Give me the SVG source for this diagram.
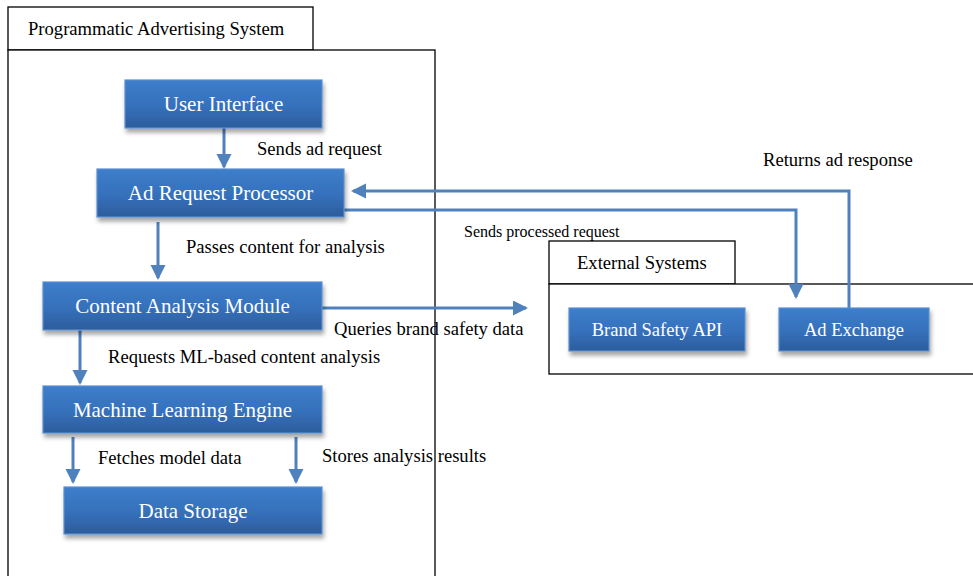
<svg xmlns="http://www.w3.org/2000/svg" width="973" height="576" viewBox="0 0 973 576">
  <defs>
    <linearGradient id="boxFill" x1="0" y1="0" x2="0" y2="1">
      <stop offset="0" stop-color="#3d7ecb"/>
      <stop offset="0.55" stop-color="#3670bb"/>
      <stop offset="1" stop-color="#2c5c9b"/>
    </linearGradient>
    <filter id="shadow" x="-10%" y="-20%" width="125%" height="160%">
      <feDropShadow dx="1.5" dy="4" stdDeviation="2.2" flood-color="#000" flood-opacity="0.35"/>
    </filter>
    <marker id="arrow" markerUnits="userSpaceOnUse" markerWidth="16" markerHeight="16" refX="13" refY="7.5" orient="auto">
      <path d="M0,0 L15,7.5 L0,15 z" fill="#4f81bd"/>
    </marker>
  </defs>
  <style>
    .frame { fill: #fff; stroke: #000; stroke-width: 1.3; }
    .box { fill: url(#boxFill); stroke: #5b8fd0; stroke-width: 1.2; filter: url(#shadow); }
    .boxText { font-family: "Liberation Serif", "Times New Roman", serif; font-size: 21px; fill: #fff; text-anchor: middle; }
    .extText { font-size: 18.5px; }
    .label { font-family: "Liberation Serif", "Times New Roman", serif; font-size: 18.6px; fill: #000; }
    .small { font-size: 16px; }
    .conn { fill: none; stroke: #4f81bd; stroke-width: 3; marker-end: url(#arrow); }
  </style>

  <rect width="973" height="576" fill="#fff"/>

  <!-- system boundaries -->
  <g id="system-frame">
    <rect class="frame" x="8" y="7" width="305" height="43"/>
    <rect class="frame" x="8" y="50" width="427" height="540"/>
    <text class="label" x="28" y="35">Programmatic Advertising System</text>
  </g>
  <g id="external-frame">
    <rect class="frame" x="549" y="241" width="186" height="43"/>
    <rect class="frame" x="549" y="284" width="440" height="90"/>
    <text class="label" x="577" y="269">External Systems</text>
  </g>

  <!-- connectors -->
  <g id="connectors">
    <path class="conn" d="M224,128 V167"/>
    <path class="conn" d="M158,222 V278"/>
    <path class="conn" d="M322,308 H526"/>
    <path class="conn" d="M80,330 V383"/>
    <path class="conn" d="M73,437 V482"/>
    <path class="conn" d="M296,437 V482"/>
    <path class="conn" d="M344,210 H796 V297"/>
    <path class="conn" d="M849,308 V191 H353"/>
    <text class="label" x="257" y="155">Sends ad request</text>
    <text class="label" x="186" y="253">Passes content for analysis</text>
    <text class="label" x="334" y="335">Queries brand safety data</text>
    <text class="label" x="108" y="363">Requests ML-based content analysis</text>
    <text class="label" x="98" y="464">Fetches model data</text>
    <text class="label" x="322" y="462">Stores analysis results</text>
    <text class="label small" x="464" y="237">Sends processed request</text>
    <text class="label" x="763" y="166">Returns ad response</text>
  </g>

  <!-- nodes -->
  <g id="user-interface">
    <rect class="box" x="125" y="80" width="197" height="48"/>
    <text class="boxText" x="223.5" y="111">User Interface</text>
  </g>
  <g id="ad-request-processor">
    <rect class="box" x="97" y="169" width="247" height="48"/>
    <text class="boxText" x="220.5" y="200">Ad Request Processor</text>
  </g>
  <g id="content-analysis-module">
    <rect class="box" x="43" y="282" width="279" height="48"/>
    <text class="boxText" x="182.5" y="313">Content Analysis Module</text>
  </g>
  <g id="machine-learning-engine">
    <rect class="box" x="43" y="386" width="279" height="47"/>
    <text class="boxText" x="182.5" y="417">Machine Learning Engine</text>
  </g>
  <g id="data-storage">
    <rect class="box" x="64" y="487" width="258" height="47"/>
    <text class="boxText" x="193" y="518">Data Storage</text>
  </g>
  <g id="brand-safety-api">
    <rect class="box" x="569" y="308" width="176" height="43"/>
    <text class="boxText extText" x="657" y="336">Brand Safety API</text>
  </g>
  <g id="ad-exchange">
    <rect class="box" x="779" y="308" width="150" height="43"/>
    <text class="boxText extText" x="854" y="336">Ad Exchange</text>
  </g>
</svg>
